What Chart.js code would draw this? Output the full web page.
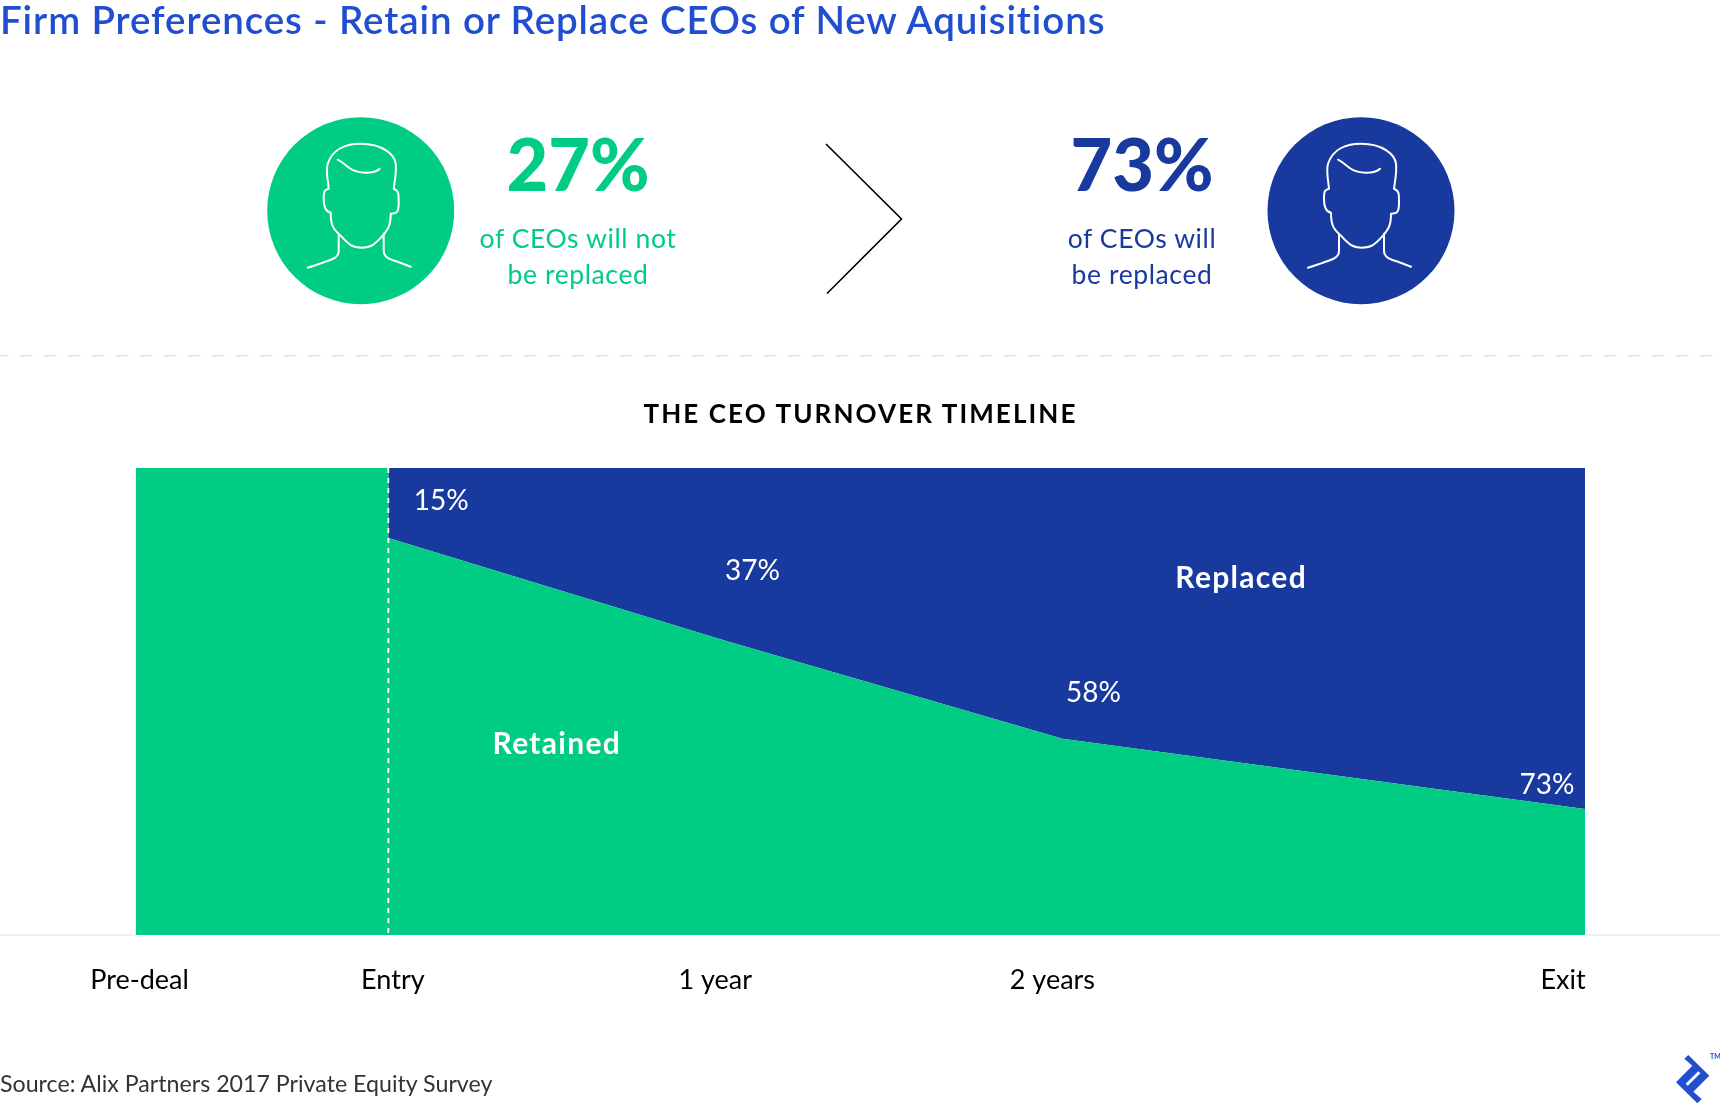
<!DOCTYPE html>
<html>
<head>
<meta charset="utf-8">
<title>Firm Preferences - Retain or Replace CEOs of New Aquisitions</title>
<script src="https://cdn.jsdelivr.net/npm/chart.js@4/dist/chart.umd.min.js"></script>
<style>
  html, body { margin: 0; padding: 0; background: #fff; }
  body { width: 1720px; height: 1104px; position: relative; overflow: hidden; font-family: Lato, "Open Sans", sans-serif; }
  #timeline { position: absolute; left: 0; top: 0; width: 1720px; height: 1104px; }
  .t { position: absolute; white-space: nowrap; line-height: 1; }
  .c { transform: translateX(-50%); }
  .green { color: #00cc83; }
  .navy { color: #183a9e; }
  .sub { font-size: 26.5px; letter-spacing: 0.6px; }
  svg { position: absolute; left: 0; top: 0; }
</style>
</head>
<body>
<canvas id="timeline" width="1720" height="1104"></canvas>

<svg width="1720" height="1104" viewBox="0 0 1720 1104">
  <defs>
    <g id="head" fill="none" stroke="#fff" stroke-width="2" stroke-linecap="round" stroke-linejoin="round">
      <path d="M-33 -47 C-28 -62 -14 -67 0 -67 C 22 -67 34 -56 35 -47 C36 -38 34 -30 33 -22 C38 -20 38 -18 38 -8 C38 2 36 3 30 3 C30 14 28 18 22 25 C14 34 10 37 1 37 C-8 37 -12 34 -20 25 C-28 18 -30 14 -30 2 C-35 1 -37 -3 -37 -12 C-37 -20 -36 -21 -32 -22 C-33 -32 -35 -40 -33 -47 Z"/>
      <path d="M-23 -51 C-13 -46 -11 -38 5 -38 C12 -38 16 -39 19 -42"/>
      <path d="M-22 23 L-22 40 C-22 48 -30 49 -38 52 C-44 54 -49 56 -53 57"/>
      <path d="M23 23 L23 40 C23 47 30 49 37 51 L50 56"/>
    </g>
  </defs>
  <circle cx="360.7" cy="210.7" r="93.5" fill="#00cc83"/>
  <use href="#head" x="360.7" y="210.7"/>
  <circle cx="1361" cy="210.7" r="93.5" fill="#183a9e"/>
  <use href="#head" x="1361" y="210.7"/>
  <polyline points="826,144 901.5,219 827,293.5" fill="none" stroke="#000" stroke-width="1.6"/>
  <line x1="0" y1="355.7" x2="1720" y2="355.7" stroke="#e4e4e4" stroke-width="1.5" stroke-dasharray="12.5 11.5" stroke-dashoffset="4"/>
  <path d="M1684.3 1058.7 L1688.3 1055 L1709.3 1075.7 L1693.3 1091.7 L1701.7 1099 L1697.3 1103.3 L1676 1082.3 L1692.3 1065.7 Z" fill="#204ecf"/>
  <line x1="1686.7" y1="1084.7" x2="1699.3" y2="1072.3" stroke="#fff" stroke-width="3"/>
</svg>

<div class="t" style="left:0;top:0;font-size:38.5px;font-weight:600;letter-spacing:0.9px;color:#204ecf;">Firm Preferences - Retain or Replace CEOs of New Aquisitions</div>
<div class="t c green" style="left:578px;top:127px;font-size:72px;font-weight:900;">27%</div>
<div class="t c navy" style="left:1142px;top:127px;font-size:72px;font-weight:900;">73%</div>
<div class="t c green sub" style="left:578px;top:225px;">of CEOs will not</div>
<div class="t c green sub" style="left:578px;top:261px;">be replaced</div>
<div class="t c navy sub" style="left:1142px;top:225px;">of CEOs will</div>
<div class="t c navy sub" style="left:1142px;top:261px;">be replaced</div>
<div class="t c" style="left:860.5px;top:400px;font-size:26px;font-weight:700;letter-spacing:2.1px;color:#000;">THE CEO TURNOVER TIMELINE</div>
<div class="t" style="left:0;top:1072px;font-size:23.2px;color:#333;">Source: Alix Partners 2017 Private Equity Survey</div>
<div class="t" style="left:1710px;top:1053px;font-size:7px;font-weight:700;color:#204ecf;">TM</div>

<script>
// Timeline positions in years since the deal's entry point. Entry appears twice
// because the shares step down at that moment.
const timelineYears = [-0.75, 0, 0, 1, 2, 3.55];
const retainedShare = [100, 100, 85, 63, 42, 27];
const replacedShare = [0, 0, 15, 37, 58, 73];

// Axis captions and where each one sits along the timeline.
const tickLabels = ['Pre-deal', 'Entry', '1 year', '2 years', 'Exit'];
const tickAnchors = [-0.738, 0.0135, 0.97, 1.97, 3.485];

// Which points carry a percentage, with the label's offset from the point.
const labelledPoints = [2, 3, 4, 5];
const labelOffsets = [[53, -37], [27, -70], [31, -46], [-38, -24]];

const GREEN = '#00cc83';
const NAVY = '#183a9e';
const FONT = 'Lato, "Open Sans", sans-serif';

function series(values) {
  return timelineYears.map((x, i) => ({ x, y: values[i] }));
}

// Draws the full-width baseline, the dashed entry marker and the labels over the areas.
const timelineOverlay = {
  id: 'timelineOverlay',
  afterDatasetsDraw(chart) {
    const { ctx, chartArea, scales } = chart;
    const x = scales.x, yRep = scales.yReplaced;
    ctx.save();

    ctx.strokeStyle = '#ececec';
    ctx.lineWidth = 1.5;
    ctx.beginPath();
    ctx.moveTo(0, chartArea.bottom);
    ctx.lineTo(chartArea.left, chartArea.bottom);
    ctx.moveTo(chartArea.right, chartArea.bottom);
    ctx.lineTo(chart.width, chartArea.bottom);
    ctx.stroke();

    const entryX = x.getPixelForValue(0);
    ctx.strokeStyle = '#fff';
    ctx.lineWidth = 1.8;
    ctx.setLineDash([5, 5]);
    ctx.beginPath();
    ctx.moveTo(entryX, chartArea.top);
    ctx.lineTo(entryX, chartArea.bottom);
    ctx.stroke();
    ctx.setLineDash([]);

    ctx.fillStyle = '#fff';
    ctx.textAlign = 'center';
    ctx.textBaseline = 'middle';
    ctx.font = '28px ' + FONT;
    labelledPoints.forEach((p, i) => {
      const px = x.getPixelForValue(timelineYears[p]) + labelOffsets[i][0];
      const py = yRep.getPixelForValue(replacedShare[p]) + labelOffsets[i][1];
      ctx.fillText(replacedShare[p] + '%', px, py);
    });

    ctx.font = '700 30px ' + FONT;
    ctx.letterSpacing = '1.3px';
    ctx.fillText('Replaced', x.getPixelForValue(2.53), yRep.getPixelForValue(23.7));
    ctx.fillText('Retained', x.getPixelForValue(0.5), yRep.getPixelForValue(59.2));
    ctx.restore();
  }
};

new Chart(document.getElementById('timeline'), {
  type: 'line',
  data: {
    datasets: [
      {
        label: 'Retained',
        data: series(retainedShare),
        yAxisID: 'y',
        backgroundColor: GREEN,
        borderWidth: 0,
        pointRadius: 0,
        tension: 0,
        fill: 'origin'
      },
      {
        label: 'Replaced',
        data: series(replacedShare),
        yAxisID: 'yReplaced',
        backgroundColor: NAVY,
        borderWidth: 0,
        pointRadius: 0,
        tension: 0,
        fill: { target: { value: 0 } }
      }
    ]
  },
  options: {
    responsive: false,
    animation: false,
    devicePixelRatio: 1,
    layout: { padding: { left: 135.5, right: 135, top: 468, bottom: 0 } },
    plugins: { legend: { display: false }, tooltip: { enabled: false }, title: { display: false } },
    scales: {
      x: {
        type: 'linear',
        min: -0.75,
        max: 3.55,
        grid: { display: false },
        border: { display: false },
        afterFit(scale) { scale.height = 169; },
        afterBuildTicks(scale) { scale.ticks = tickAnchors.map(value => ({ value })); },
        ticks: {
          autoSkip: false,
          maxRotation: 0,
          padding: 21,
          color: '#000',
          font: { family: FONT, size: 27 },
          callback(value) { return tickLabels[tickAnchors.indexOf(value)]; }
        }
      },
      y: { display: false, min: 0, max: 100 },
      yReplaced: { display: false, min: 0, max: 100, reverse: true }
    }
  },
  plugins: [timelineOverlay]
});
</script>
</body>
</html>
